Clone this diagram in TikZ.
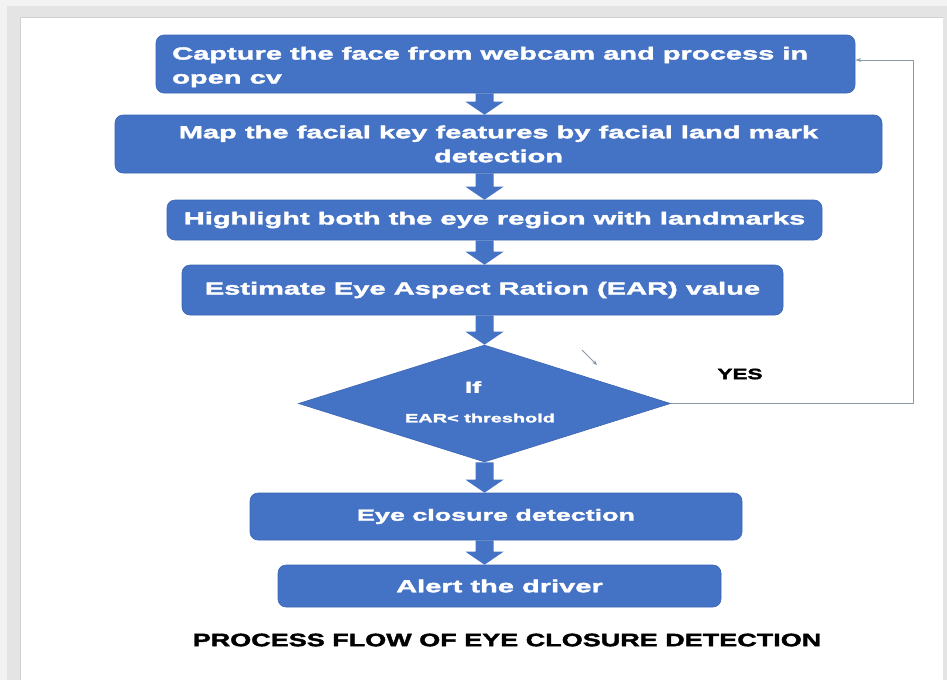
\documentclass[tikz,border=0pt]{standalone}
\usepackage{fontspec}
\usetikzlibrary{shapes.geometric,arrows.meta,calc}
\newfontfamily\hv{Liberation Sans Bold}[FakeStretch=1.66,FakeBold=2.2]
\newfontfamily\hvc{Liberation Sans Bold}[FakeStretch=1.5,FakeBold=2.2]
\definecolor{boxblue}{HTML}{4472C4}
\definecolor{boxedge}{HTML}{3C66B4}
\definecolor{retgray}{HTML}{8C97A6}
\definecolor{frameg}{HTML}{E4E4E4}
\tikzset{
  box/.style={rectangle, rounded corners=8pt, fill=boxblue, draw=boxedge, line width=0.6pt,
    text=white, font=\hv\fontsize{17.5}{24}\selectfont, inner sep=0pt, align=center},
  dia/.style={diamond, fill=boxblue, draw=boxedge, line width=0.6pt, inner sep=0pt},
  retline/.style={draw=retgray, line width=0.8pt},
  lbl/.style={inner sep=0pt},
}
\newcommand\fatarrow[2]{\fill[boxblue] let \p1=(#1), \p2=(#2) in
  (\x1-9pt,\y1) -- (\x1+9pt,\y1) -- (\x1+9pt,\y2+13pt) -- (\x1+19pt,\y2+13pt) --
  (\x1,\y2) -- (\x1-19pt,\y2+13pt) -- (\x1-9pt,\y2+13pt) -- cycle;}
\begin{document}
\begin{tikzpicture}[x=1pt,y=-1pt]
\useasboundingbox (0,0) rectangle (947,680);
\fill[white!95!black] (0,0) rectangle (947,680);
\fill[frameg] (7,6) rectangle (947,680);
\fill[white] (20,17) rectangle (943,680);
\draw[white!82!black, line width=0.6pt] (20,680) -- (20,17) -- (943,17);

\node[box, minimum width=699pt, minimum height=58pt] (b1) at (505.5,64) {};
\node[lbl, text=white, font=\hv\fontsize{17.5}{24}\selectfont, align=left, anchor=west] (b1t) at (172,67)
  {Capture the face from webcam and process in\\open cv};
\node[box, minimum width=767pt, minimum height=58pt] (b2) at (498.5,144)
  {Map the facial key features by facial land mark\\detection};
\node[box, minimum width=655pt, minimum height=40pt] (b3) at (494.5,220)
  {Highlight both the eye region with landmarks};
\node[box, minimum width=601pt, minimum height=50pt] (b4) at (482.5,290)
  {Estimate Eye Aspect Ration (EAR) value};
\node[dia, minimum width=372pt, minimum height=117pt] (d) at (484.5,403.5) {};
\node[lbl, text=white, font=\hv\fontsize{16}{18}\selectfont] (t1) at (473,387) {If};
\node[lbl, text=white, font=\hv\fontsize{12}{14}\selectfont] (t2) at (480,418) {EAR< threshold};
\node[box, minimum width=492pt, minimum height=47pt, font=\hv\fontsize{16.2}{20}\selectfont] (b5) at (496,516.5)
  {Eye closure detection};
\node[box, minimum width=443pt, minimum height=42pt] (b6) at (499.5,586)
  {Alert the driver};
\node[lbl, font=\hvc\fontsize{15}{18}\selectfont] (yes) at (740,374) {YES};
\node[lbl, font=\hvc\fontsize{18}{20}\selectfont] (cap) at (507,640)
  {PROCESS FLOW OF EYE CLOSURE DETECTION};

\fatarrow{b1.south -| d.center}{b2.north -| d.center}
\fatarrow{b2.south -| d.center}{b3.north -| d.center}
\fatarrow{b3.south -| d.center}{b4.north -| d.center}
\fatarrow{b4.south -| d.center}{d.north}
\fatarrow{d.south}{b5.north -| d.center}
\fatarrow{b5.south -| d.center}{b6.north -| d.center}

\coordinate (r) at (913,60);
\draw[retline, -{Stealth[length=6pt,width=4pt]}] (d.east) -| (r) -- (b1.east |- r);
\coordinate (s1) at (582,350);
\coordinate (s2) at (597,365);
\draw[retline, -{Stealth[length=5pt,width=4pt]}] (s1) -- (s2);
\end{tikzpicture}
\end{document}
